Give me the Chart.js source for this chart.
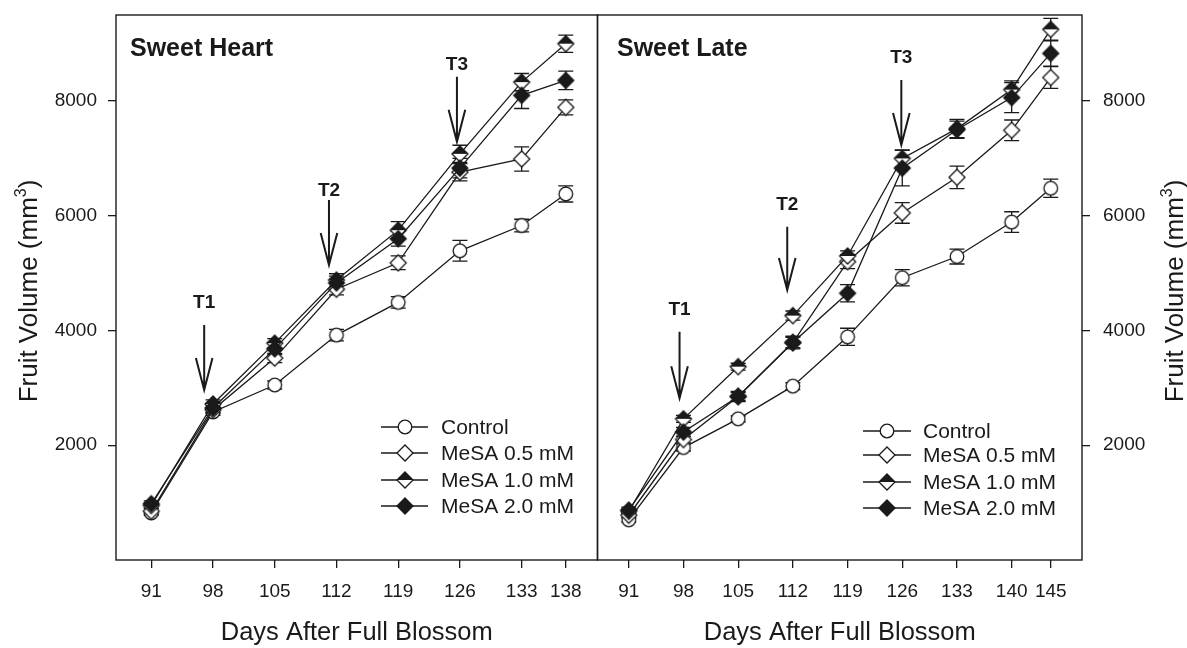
<!DOCTYPE html>
<html><head><meta charset="utf-8">
<script src="https://cdn.jsdelivr.net/npm/chart.js@4.4.0/dist/chart.umd.min.js"></script>
<style>
html,body{margin:0;padding:0;background:#fff;width:1187px;height:648px;overflow:hidden}
canvas{position:absolute;top:0}
#c1{left:0}
#c2{left:590px}
</style></head><body>
<canvas id="c1" width="600" height="648"></canvas>
<canvas id="c2" width="597" height="648"></canvas>
<script>
// ---------- DATA ----------
const seriesNames = ['Control', 'MeSA 0.5 mM', 'MeSA 1.0 mM', 'MeSA 2.0 mM'];
const yTicks = [2000, 4000, 6000, 8000];

// Sweet Heart
const heartDays      = [91, 98, 105, 112, 119, 126, 133, 138];
const heartControl   = [820, 2580, 3050, 3920, 4490, 5390, 5830, 6380];
const heartMesa05    = [850, 2620, 3520, 4720, 5180, 6760, 6990, 7890];
const heartMesa10    = [950, 2720, 3780, 4880, 5750, 7080, 8330, 9000];
const heartMesa20    = [980, 2650, 3680, 4830, 5600, 6830, 8100, 8360];
const heartControlSE = [40, 60, 70, 100, 100, 180, 110, 140];
const heartMesa05SE  = [50, 70, 80, 100, 120, 150, 210, 130];
const heartMesa10SE  = [50, 70, 80, 110, 150, 150, 150, 150];
const heartMesa20SE  = [50, 80, 100, 120, 130, 170, 230, 160];
const heartTLabels   = ['T1', 'T2', 'T3'];
const heartTDays     = [97, 111.15, 125.66];
const heartTTip      = [2963, 5142, 7291];
const heartTTop      = [4096, 6275, 8424];
const heartTText     = [4387, 6345, 8541];

// Sweet Late
const lateDays      = [91, 98, 105, 112, 119, 126, 133, 140, 145];
const lateControl   = [700, 1960, 2460, 3030, 3890, 4920, 5290, 5890, 6480];
const lateMesa05    = [780, 2100, 2850, 3790, 5200, 6050, 6670, 7490, 8410];
const lateMesa10    = [850, 2460, 3370, 4260, 5300, 7000, 7520, 8200, 9250];
const lateMesa20    = [870, 2230, 2850, 3790, 4650, 6830, 7500, 8060, 8830];
const lateControlSE = [40, 60, 50, 60, 150, 140, 130, 180, 160];
const lateMesa05SE  = [40, 60, 70, 90, 120, 180, 195, 180, 190];
const lateMesa10SE  = [40, 60, 60, 80, 90, 150, 160, 150, 190];
const lateMesa20SE  = [50, 80, 90, 110, 150, 310, 150, 260, 220];
const lateTLabels   = ['T1', 'T2', 'T3'];
const lateTDays     = [97.5, 111.28, 125.88];
const lateTTip      = [2819, 4706, 7234];
const lateTTop      = [3979, 5810, 8367];
const lateTText     = [4270, 6101, 8658];

// ---------- STYLE ----------
const FONT = "'Liberation Sans', Arial, Helvetica, sans-serif";
const INK = '#1a1a1a';

function makeMarker(kind) {
  const s = 22, m = s / 2;
  const c = document.createElement('canvas');
  c.width = s; c.height = s;
  const g = c.getContext('2d');
  g.lineWidth = 1.3; g.strokeStyle = INK;
  if (kind === 'circle') {
    g.beginPath(); g.arc(m, m, 6.8, 0, Math.PI * 2);
    g.fillStyle = '#fff'; g.fill(); g.stroke();
  } else {
    const r = 8;
    const path = () => { g.beginPath(); g.moveTo(m, m - r); g.lineTo(m + r, m); g.lineTo(m, m + r); g.lineTo(m - r, m); g.closePath(); };
    path(); g.fillStyle = kind === 'filled' ? INK : '#fff'; g.fill();
    if (kind === 'half') {
      g.beginPath(); g.moveTo(m, m - r); g.lineTo(m + r, m); g.lineTo(m - r, m); g.closePath();
      g.fillStyle = INK; g.fill();
    }
    path(); g.stroke();
  }
  return c;
}
const markers = [makeMarker('circle'), makeMarker('open'), makeMarker('half'), makeMarker('filled')];

const panelPlugin = {
  id: 'panelPlugin',
  beforeDatasetsDraw(chart) {
    const { ctx, scales: { x, y } } = chart;
    ctx.save(); ctx.strokeStyle = INK; ctx.lineWidth = 1.3;
    chart.data.datasets.forEach(ds => {
      ds.data.forEach((p, i) => {
        const e = ds.errors[i];
        const px = x.getPixelForValue(p.x);
        const y1 = y.getPixelForValue(p.y + e), y2 = y.getPixelForValue(p.y - e);
        ctx.beginPath();
        ctx.moveTo(px, y1); ctx.lineTo(px, y2);
        ctx.moveTo(px - 7.5, y1); ctx.lineTo(px + 7.5, y1);
        ctx.moveTo(px - 7.5, y2); ctx.lineTo(px + 7.5, y2);
        ctx.stroke();
      });
    });
    ctx.restore();
  },
  afterDraw(chart) {
    const { ctx, chartArea: a, scales: { x, y } } = chart;
    const o = chart.options.plugins.panelPlugin;
    ctx.save();
    // frame
    ctx.strokeStyle = INK; ctx.lineWidth = 1.4;
    ctx.strokeRect(a.left, a.top, a.right - a.left, a.bottom - a.top);
    // panel title
    ctx.fillStyle = INK;
    ctx.font = 'bold 25px ' + FONT;
    ctx.textAlign = 'left'; ctx.textBaseline = 'alphabetic';
    ctx.fillText(o.title, o.titleX, 56);
    // treatment arrows
    o.tLabels.forEach((lab, i) => {
      const px = x.getPixelForValue(o.tDays[i]);
      const tip = y.getPixelForValue(o.tTip[i]);
      const top = y.getPixelForValue(o.tTop[i]);
      ctx.lineWidth = 2; ctx.strokeStyle = INK;
      ctx.beginPath();
      ctx.moveTo(px, top); ctx.lineTo(px, tip);
      ctx.moveTo(px - 8.3, tip - 32); ctx.lineTo(px, tip); ctx.lineTo(px + 8.3, tip - 32);
      ctx.stroke();
      ctx.font = 'bold 19px ' + FONT;
      ctx.textAlign = 'center';
      ctx.fillText(lab, px, y.getPixelForValue(o.tText[i]));
    });
    // legend
    const L = o.legend;
    ctx.font = '21px ' + FONT;
    ctx.textAlign = 'left'; ctx.textBaseline = 'middle';
    seriesNames.forEach((name, i) => {
      const ry = L.rows[i];
      ctx.lineWidth = 1.3; ctx.strokeStyle = INK;
      ctx.beginPath(); ctx.moveTo(L.x0, ry); ctx.lineTo(L.x1, ry); ctx.stroke();
      const mk = markers[i];
      ctx.drawImage(mk, Math.round(L.mx - mk.width / 2), Math.round(ry - mk.height / 2));
      ctx.fillText(name, L.tx, ry + 1);
    });
    // y axis title with superscript
    ctx.translate(o.yTitleX, o.yTitleY);
    ctx.rotate(-Math.PI / 2);
    ctx.textBaseline = 'alphabetic'; ctx.textAlign = 'left';
    const big = '26px ' + FONT, sup = '16px ' + FONT;
    ctx.font = big; const w1 = ctx.measureText('Fruit Volume (mm').width; const w3 = ctx.measureText(')').width;
    ctx.font = sup; const w2 = ctx.measureText('3').width;
    let sx = -(w1 + w2 + w3) / 2;
    ctx.font = big; ctx.fillText('Fruit Volume (mm', sx, 0); sx += w1;
    ctx.font = sup; ctx.fillText('3', sx, -11); sx += w2;
    ctx.font = big; ctx.fillText(')', sx, 0);
    ctx.restore();
  }
};

function buildChart(id, days, vals, errs, xMax, yPos, padding, yWidth, extra) {
  const datasets = vals.map((v, k) => ({
    label: seriesNames[k],
    data: days.map((d, i) => ({ x: d, y: v[i] })),
    errors: errs[k],
    borderColor: INK, borderWidth: 1.3, tension: 0, fill: false,
    pointStyle: markers[k], pointRadius: 8, pointHoverRadius: 8,
    order: 4 - k
  }));
  const tickFont = { family: FONT, size: 19 };
  const grid = { display: true, drawOnChartArea: false, drawTicks: true, tickLength: 8, color: INK, lineWidth: 1.3 };
  const noPad = s => { s.paddingTop = 0; s.paddingBottom = 0; s.paddingLeft = 0; s.paddingRight = 0; };
  return new Chart(document.getElementById(id), {
    type: 'line',
    data: { datasets },
    options: {
      responsive: false, animation: false, devicePixelRatio: 1,
      layout: { padding, autoPadding: false },
      plugins: { legend: { display: false }, tooltip: { enabled: false }, panelPlugin: extra },
      scales: {
        x: {
          type: 'linear', min: 87, max: xMax,
          afterBuildTicks: s => { s.ticks = days.map(v => ({ value: v })); },
          afterFit: s => { s.height = 88; noPad(s); },
          ticks: { color: INK, font: tickFont, padding: 12, maxRotation: 0, autoSkip: false, callback: v => String(v) },
          grid, border: { display: false },
          title: { display: true, text: 'Days After Full Blossom', color: INK, font: { family: FONT, size: 25.5 }, padding: { top: 0, bottom: 0 } }
        },
        y: {
          type: 'linear', position: yPos, min: 0, max: 9500,
          afterBuildTicks: s => { s.ticks = yTicks.map(v => ({ value: v })); },
          afterFit: s => { s.width = yWidth; noPad(s); },
          ticks: { color: INK, font: tickFont, padding: yPos === 'left' ? 11 : 13, callback: v => String(v) },
          grid, border: { display: false }
        }
      }
    },
    plugins: [panelPlugin]
  });
}

buildChart('c1', heartDays,
  [heartControl, heartMesa05, heartMesa10, heartMesa20],
  [heartControlSE, heartMesa05SE, heartMesa10SE, heartMesa20SE],
  141.6, 'left', { top: 15, right: 2.5, left: 0, bottom: 0 }, 116,
  { title: 'Sweet Heart', titleX: 130,
    tLabels: heartTLabels, tDays: heartTDays, tTip: heartTTip, tTop: heartTTop, tText: heartTText,
    legend: { x0: 381, x1: 428, mx: 404.5, tx: 441, rows: [427, 453, 480, 506] },
    yTitleX: 37, yTitleY: 291 });

buildChart('c2', lateDays,
  [lateControl, lateMesa05, lateMesa10, lateMesa20],
  [lateControlSE, lateMesa05SE, lateMesa10SE, lateMesa20SE],
  149, 'right', { top: 15, right: 0, left: 7.5, bottom: 0 }, 105,
  { title: 'Sweet Late', titleX: 27,
    tLabels: lateTLabels, tDays: lateTDays, tTip: lateTTip, tTop: lateTTop, tText: lateTText,
    legend: { x0: 273, x1: 321, mx: 297, tx: 333, rows: [431, 455, 482, 508] },
    yTitleX: 593, yTitleY: 291 });
</script>
</body></html>
